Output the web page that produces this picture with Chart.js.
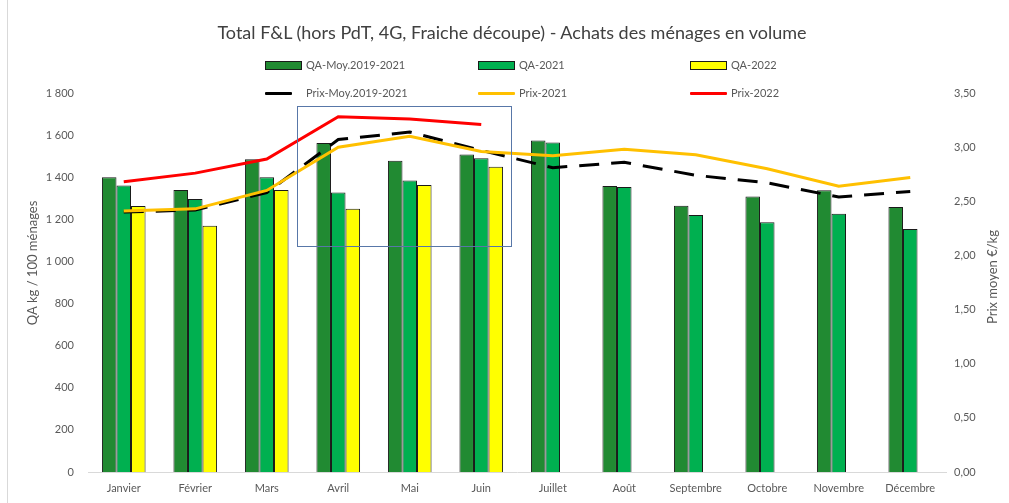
<!DOCTYPE html>
<html lang="fr">
<head>
<meta charset="utf-8">
<title>Total F&L - Achats des ménages en volume</title>
<script src="https://cdn.jsdelivr.net/npm/chart.js@4.4.1/dist/chart.umd.min.js"></script>
<style>
  html, body { margin: 0; padding: 0; background: #fff; }
  #wrap { position: relative; width: 1009px; height: 503px; overflow: hidden; font-family: Lato, "Open Sans", sans-serif; }
  #wrap canvas { position: absolute; left: 0; top: 0; }
  #frame { position: absolute; left: 7px; top: 0; width: 1px; height: 503px; background: #d9d9d9; }
  #title { position: absolute; left: 0; width: 1024px; top: 21px; text-align: center; font-size: 18px; color: #404040; white-space: nowrap; }
  .leg { position: absolute; font-size: 11px; color: #595959; white-space: nowrap; line-height: 14px; }
  .sw { position: absolute; box-sizing: border-box; }
</style>
</head>
<body>
<div id="wrap">
  <canvas id="chart" width="1009" height="503"></canvas>
  <div id="frame"></div>
  <div id="title">Total F&amp;L (hors PdT, 4G, Fraiche découpe) - Achats des ménages en volume</div>
  <div id="legend"></div>
</div>
<script>
// months
const months = ['Janvier', 'Février', 'Mars', 'Avril', 'Mai', 'Juin', 'Juillet', 'Août', 'Septembre', 'Octobre', 'Novembre', 'Décembre'];

// QA kg / 100 ménages
const qaMoy = [1400, 1339, 1485, 1562, 1478, 1508, 1575, 1358, 1265, 1309, 1338, 1258];
const qa2021 = [1361, 1296, 1400, 1328, 1385, 1490, 1565, 1353, 1220, 1186, 1227, 1154];
const qa2022 = [1263, 1170, 1339, 1250, 1363, 1450, null, null, null, null, null, null];

// prix moyen €/kg
const prixMoy = [2.40, 2.42, 2.58, 3.07, 3.14, 2.97, 2.81, 2.86, 2.74, 2.67, 2.54, 2.59];
const prix2021 = [2.41, 2.43, 2.60, 3.00, 3.10, 2.96, 2.92, 2.98, 2.93, 2.80, 2.64, 2.72];
const prix2022 = [2.68, 2.76, 2.89, 3.28, 3.26, 3.21, null, null, null, null, null, null];

// axis ticks
const qaMax = 1800, qaStep = 200;
const prixMax = 3.5, prixStep = 0.5;

// highlighted zone (category index / QA units)
const zone = { from: 2.43, to: 5.42, top: 1738, bottom: 1073 };

const legendItems = [
    { label: 'QA-Moy.2019-2021', type: 'box', color: '#218a32', x: 265, y: 65 },
    { label: 'QA-2021', type: 'box', color: '#00b050', x: 478, y: 65 },
    { label: 'QA-2022', type: 'box', color: '#ffff00', x: 690, y: 65 },
    { label: 'Prix-Moy.2019-2021', type: 'line', color: '#000000', x: 265, y: 93, w: 27 },
    { label: 'Prix-2021', type: 'line', color: '#ffc000', x: 478, y: 93 },
    { label: 'Prix-2022', type: 'line', color: '#ff0000', x: 690, y: 93 }
];

const legend = document.getElementById('legend');
legendItems.forEach(item => {
    const sw = document.createElement('div');
    sw.className = 'sw';
    if (item.type === 'box') {
        sw.style.cssText = `left:${item.x}px;top:${item.y - 4}px;width:37px;height:9px;background:${item.color};border:1.5px solid #1a1a1a;`;
    } else {
        sw.style.cssText = `left:${item.x}px;top:${item.y - 1.5}px;width:${item.w || 37}px;height:3px;background:${item.color};border-radius:1px;`;
    }
    legend.appendChild(sw);
    const txt = document.createElement('div');
    txt.className = 'leg';
    txt.textContent = item.label;
    txt.style.left = (item.x + 41) + 'px';
    txt.style.top = (item.y - 7) + 'px';
    legend.appendChild(txt);
});

const extras = {
    id: 'extras',
    afterDatasetsDraw(chart) {
        const { ctx, scales: { x, y } } = chart;
        ctx.save();
        ctx.strokeStyle = '#5877a8';
        ctx.lineWidth = 1;
        const x0 = x.getPixelForValue(zone.from), x1 = x.getPixelForValue(zone.to);
        const y0 = y.getPixelForValue(zone.top), y1 = y.getPixelForValue(zone.bottom);
        ctx.strokeRect(Math.round(x0) + 0.5, Math.round(y0) + 0.5, Math.round(x1 - x0), Math.round(y1 - y0));
        ctx.restore();
    },
    afterDraw(chart) {
        const ctx = chart.ctx;
        // axis titles, both read bottom to top
        [['QA kg / 100 ménages', 33, 263], ['Prix moyen €/kg', 993, 277]].forEach(([text, cx, cy]) => {
            ctx.save();
            ctx.fillStyle = '#595959';
            ctx.font = '13px Lato, "Open Sans", sans-serif';
            ctx.textAlign = 'center';
            ctx.textBaseline = 'middle';
            ctx.translate(cx, cy);
            ctx.rotate(-Math.PI / 2);
            ctx.fillText(text, 0, 0);
            ctx.restore();
        });
    }
};

const tickFont = { family: 'Lato, "Open Sans", sans-serif', size: 11 };

new Chart(document.getElementById('chart'), {
    data: {
        labels: months,
        datasets: [
            { type: 'line', label: 'Prix-2022', data: prix2022, yAxisID: 'y1', borderColor: '#ff0000', borderWidth: 3, pointRadius: 0, tension: 0, order: 0 },
            { type: 'line', label: 'Prix-2021', data: prix2021, yAxisID: 'y1', borderColor: '#ffc000', borderWidth: 3, pointRadius: 0, tension: 0, order: 1 },
            { type: 'line', label: 'Prix-Moy.2019-2021', data: prixMoy, yAxisID: 'y1', borderColor: '#000000', borderWidth: 3, borderDash: [20, 12], pointRadius: 0, tension: 0, order: 2 },
            { type: 'bar', label: 'QA-Moy.2019-2021', data: qaMoy, yAxisID: 'y', backgroundColor: '#218a32', borderColor: '#1a1a1a', borderWidth: 1, order: 3 },
            { type: 'bar', label: 'QA-2021', data: qa2021, yAxisID: 'y', backgroundColor: '#00b050', borderColor: '#1a1a1a', borderWidth: 1, order: 3 },
            { type: 'bar', label: 'QA-2022', data: qa2022, yAxisID: 'y', backgroundColor: '#ffff00', borderColor: '#1a1a1a', borderWidth: 1, order: 3 }
        ]
    },
    options: {
        responsive: false,
        animation: false,
        layout: { padding: { top: 93, left: 0, right: 0, bottom: 0 } },
        datasets: { bar: { categoryPercentage: 0.61, barPercentage: 1 } },
        plugins: { legend: { display: false }, title: { display: false }, tooltip: { enabled: false } },
        scales: {
            x: {
                grid: { display: false, drawTicks: false },
                border: { display: true, color: '#d9d9d9', width: 1 },
                ticks: { color: '#595959', font: tickFont, padding: 10, maxRotation: 0, autoSkip: false },
                afterFit: s => { s.height = 31; }
            },
            y: {
                position: 'left',
                min: 0, max: qaMax,
                grid: { display: false, drawTicks: false },
                border: { display: false },
                ticks: {
                    stepSize: qaStep, color: '#595959', font: tickFont, padding: 14,
                    callback: v => String(v).replace(/\B(?=(\d{3})+(?!\d))/g, ' ')
                },
                afterFit: s => { s.width = 88; }
            },
            y1: {
                position: 'right',
                min: 0, max: prixMax,
                grid: { display: false, drawTicks: false },
                border: { display: false },
                ticks: {
                    stepSize: prixStep, color: '#595959', font: tickFont, padding: 8,
                    callback: v => v.toFixed(2).replace('.', ',')
                },
                afterFit: s => { s.width = 63; }
            }
        }
    },
    plugins: [extras]
});
</script>
</body>
</html>
